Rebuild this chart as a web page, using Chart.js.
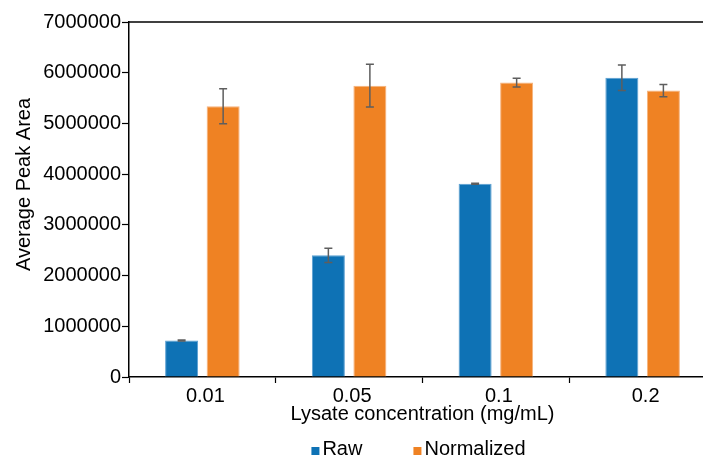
<!DOCTYPE html>
<html>
<head>
<meta charset="utf-8">
<script src="https://cdn.jsdelivr.net/npm/chart.js@4"></script>
<style>
html,body{margin:0;padding:0;background:#fff;overflow:hidden;width:703px;height:456px}
#wrap{width:720px;height:456px}
</style>
</head>
<body>
<div id="wrap"><canvas id="chart" width="720" height="456"></canvas></div>
<script>
const categories=['0.01','0.05','0.1','0.2'];
const rawValues=[720000,2400000,3810000,5900000];
const rawErrors=[10000,140000,10000,250000];
const normValues=[5340000,5745000,5805000,5648000];
const normErrors=[345000,420000,85000,120000];
const yTicks=[0,1000000,2000000,3000000,4000000,5000000,6000000,7000000];
const yTitle='Average Peak Area';

const FONT='"Liberation Sans", Arial, sans-serif';

// error bars, top border, y title, legend
const extras={
 id:'extras',
 afterDatasetsDraw(c){
  const ctx=c.ctx,y=c.scales.y;
  const errs=[rawErrors,normErrors];
  ctx.save();
  ctx.strokeStyle='#5e5e5e';ctx.lineWidth=1.5;
  c.data.datasets.forEach((ds,i)=>{
   c.getDatasetMeta(i).data.forEach((el,j)=>{
    const v=ds.data[j],e=errs[i][j];
    const t=y.getPixelForValue(v+e),b=y.getPixelForValue(v-e);
    ctx.beginPath();
    ctx.moveTo(el.x,t);ctx.lineTo(el.x,b);
    ctx.moveTo(el.x-4,t);ctx.lineTo(el.x+4,t);
    ctx.moveTo(el.x-4,b);ctx.lineTo(el.x+4,b);
    ctx.stroke();
   });
  });
  const a=c.chartArea;
  ctx.strokeStyle='#000';ctx.lineWidth=1.5;
  ctx.beginPath();ctx.moveTo(a.left,a.top);ctx.lineTo(a.right,a.top);ctx.stroke();
  ctx.restore();
 },
 afterDraw(c){
  const ctx=c.ctx,a=c.chartArea;
  ctx.save();
  ctx.font='20px '+FONT;
  // y axis title
  ctx.save();
  ctx.translate(24,(a.top+a.bottom)/2-15);
  ctx.rotate(-Math.PI/2);
  ctx.textAlign='center';ctx.textBaseline='middle';ctx.fillStyle='#000';
  ctx.fillText(yTitle,0,0);
  ctx.restore();
  // legend
  ctx.textBaseline='alphabetic';
  const items=c.data.datasets.map(d=>({t:d.label,col:d.backgroundColor,w:ctx.measureText(d.label).width}));
  const box=8,gap=3,sep=51;
  const total=items.reduce((s,it)=>s+box+gap+it.w,0)+sep*(items.length-1);
  let x=(a.left+a.right)/2-total/2-4;
  const base=c.height-1;
  items.forEach(it=>{
   ctx.fillStyle=it.col;ctx.fillRect(x,base-box,box,box);
   x+=box+gap;
   ctx.fillStyle='#000';ctx.fillText(it.t,x,base);
   x+=it.w+sep;
  });
  ctx.restore();
 }
};

new Chart(document.getElementById('chart'),{
 type:'bar',
 data:{labels:categories,datasets:[
  {label:'Raw',data:rawValues,backgroundColor:'#0e72b5',borderColor:'#5a9fd2',borderWidth:1,
   categoryPercentage:0.566,barPercentage:0.795},
  {label:'Normalized',data:normValues,backgroundColor:'#ef8223',borderColor:'#f6b27c',borderWidth:1,
   categoryPercentage:0.566,barPercentage:0.795}
 ]},
 options:{
  responsive:false,animation:false,
  layout:{padding:{top:22,right:4,left:0,bottom:0}},
  plugins:{legend:{display:false},tooltip:{enabled:false}},
  scales:{
   x:{
    grid:{display:true,drawOnChartArea:false,color:'#000',tickLength:6,tickWidth:1.2},
    border:{display:true,color:'#000',width:1.5},
    ticks:{color:'#000',font:{size:20,family:FONT},padding:1,labelOffset:3},
    title:{display:true,text:'Lysate concentration (mg/mL)',color:'#000',font:{size:20,family:FONT},padding:{top:0,bottom:30}},
    afterFit(s){s.height=79;}
   },
   y:{
    min:0,max:7000000,
    afterBuildTicks(s){s.ticks=yTicks.map(v=>({value:v}));},
    grid:{display:true,drawOnChartArea:false,color:'#000',tickLength:7,tickWidth:1.2},
    border:{display:true,color:'#000',width:1.5},
    ticks:{color:'#000',font:{size:20,family:FONT},padding:1,callback:v=>String(v)},
    title:{display:false},
    afterFit(s){s.width=129;}
   }
  }
 },
 plugins:[extras]
});
</script>
</body>
</html>
